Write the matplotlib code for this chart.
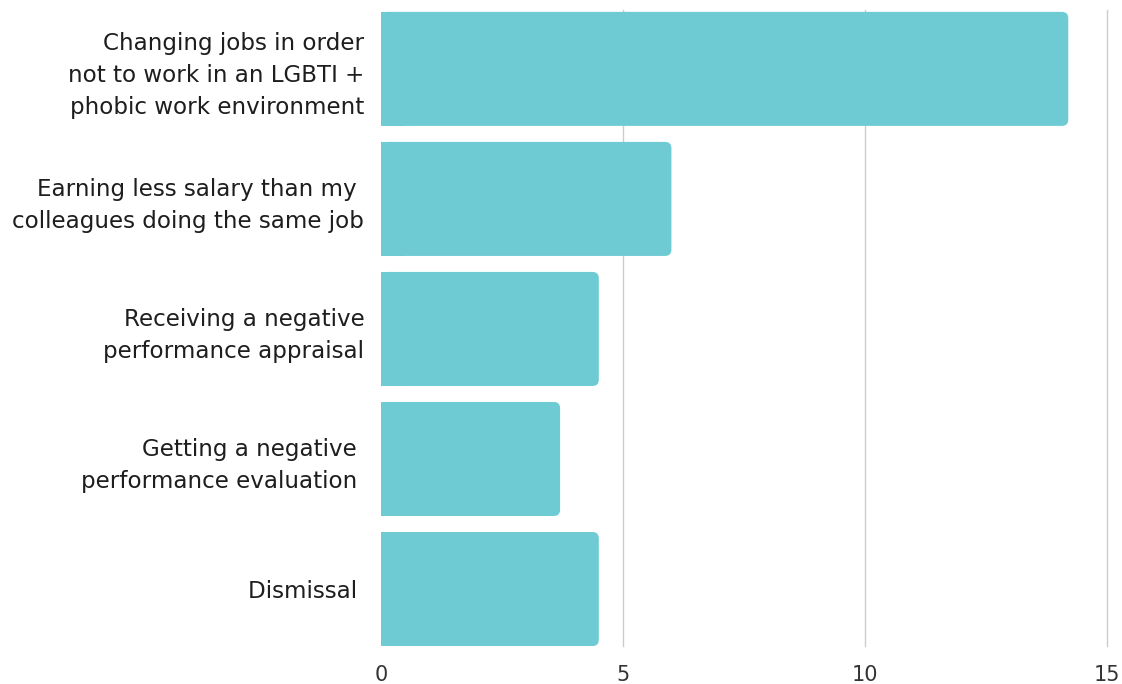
import matplotlib.pyplot as plt
from matplotlib.patches import FancyBboxPatch, Rectangle

plt.rcParams['font.family'] = ['DejaVu Sans']

labels = [
    "Changing jobs in order\nnot to work in an LGBTI +\nphobic work environment",
    "Earning less salary than my \ncolleagues doing the same job",
    "Receiving a negative\nperformance appraisal",
    "Getting a negative \nperformance evaluation ",
    "Dismissal ",
]
values = [14.2, 6.0, 4.5, 3.7, 4.5]

bar_color = "#6ecbd3"

fig = plt.figure(figsize=(11.22, 6.84), dpi=100)
ax = fig.add_axes([0.3396, 0.0556, 0.6470, 0.930])

pos = list(range(len(values)))
bars = ax.barh(pos, values, height=0.877, color=bar_color)

# swap the plain bars for ones with rounded right ends
for b in bars:
    x, y, w, h = b.get_x(), b.get_y(), b.get_width(), b.get_height()
    b.set_visible(False)
    ax.add_patch(FancyBboxPatch((x, y), w, h,
                                boxstyle="round,pad=0,rounding_size=0.13",
                                mutation_aspect=0.372,
                                facecolor=bar_color, edgecolor="none", zorder=2))
    ax.add_patch(Rectangle((x, y), min(w, 0.5), h, facecolor=bar_color,
                           edgecolor="none", zorder=2))

ax.set_xlim(0, 15)
ax.set_ylim(4.438, -0.454)
ax.set_xticks([0, 5, 10, 15])
ax.set_yticks(pos)
ax.set_yticklabels(labels, fontsize=16.6, color="#1e1e1e", ha="right", linespacing=1.5)
ax.tick_params(axis="x", labelsize=15, labelcolor="#333333", length=0, pad=14)
ax.tick_params(axis="y", length=0, pad=12)

ax.grid(axis="x", color="#cccccc", linewidth=1)
ax.set_axisbelow(True)
grid = ax.xaxis.get_gridlines()
grid[0].set_visible(False)
for g in grid:
    g.set_clip_on(False)
for s in ax.spines.values():
    s.set_visible(False)

fig.savefig("out.png", dpi=100)
